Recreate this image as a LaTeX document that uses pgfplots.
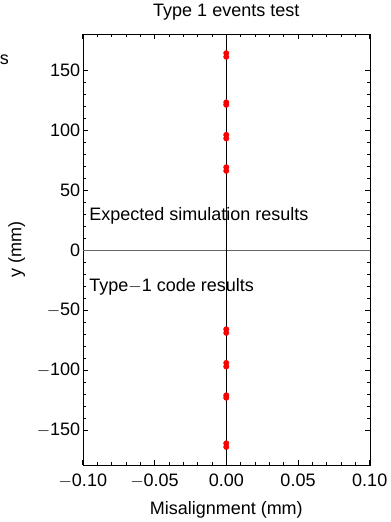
\documentclass[border=0pt]{standalone}
\usepackage{pgfplots}
\pgfplotsset{compat=1.18}
\usepackage{fontspec}
\setmainfont{Liberation Sans}
\begin{document}
\begin{tikzpicture}
\begin{axis}[
  scale only axis,
  width=287pt, height=431pt,
  xmin=-0.1, xmax=0.1, ymin=-179, ymax=180,
  xtick={-0.1,-0.05,0,0.05,0.1},
  xticklabels={$-$0.10,$-$0.05,0.00,0.05,0.10},
  ytick={-150,-100,-50,0,50,100,150},
  yticklabels={$-$150,$-$100,$-$50,0,50,100,150},
  minor x tick num=4, minor y tick num=4,
  tick align=inside,
  major tick length=5pt, minor tick length=3pt,
  tick style={black, line width=0.6pt},
  /pgf/number format/assume math mode=true,
  ticklabel style={font=\fontsize{18}{20}\selectfont},
  xticklabel style={anchor=base, yshift=-22pt},
  yticklabel style={xshift=1pt},
  label style={font=\fontsize{18}{20}\selectfont},
  title style={font=\fontsize{18}{20}\selectfont, at={(axis description cs:0.5,1)}, anchor=base, yshift=11pt},
  title={Type 1 events test},
  xlabel={Misalignment (mm)},
  ylabel={y (mm)},
  xlabel style={at={(axis description cs:0.5,0)}, anchor=base, yshift=-50pt},
  ylabel style={at={([xshift=-66pt]axis description cs:0,0.5)}, anchor=center},
  clip=false,
]
\draw[black!60, line width=0.8pt] (axis cs:-0.1,0) -- (axis cs:0.1,0);
\draw[black, line width=0.6pt] (axis cs:0,-179) -- (axis cs:0,180);
\addplot[only marks, mark=*, mark size=2.8pt, color=red, mark options={draw=red!85!black, line width=0.2pt}] coordinates {
(0,164) (0,161) (0,123) (0,121) (0,96) (0,93) (0,69) (0,66)
(0,-66) (0,-69) (0,-94) (0,-97) (0,-121) (0,-123) (0,-161) (0,-164)
};
\node[anchor=west, font=\fontsize{18}{20}\selectfont, inner sep=0pt] at (axis cs:-0.0955,28.5) {Expected simulation results};
\node[anchor=west, font=\fontsize{18}{20}\selectfont, inner sep=0pt] at (axis cs:-0.0955,-30.5) {Type$-$1 code results};
\node[anchor=west, font=\fontsize{18}{20}\selectfont, inner sep=0pt] at ([xshift=-83pt]axis description cs:0,0.94) {s};
\path (axis description cs:0,1) ++(0pt,34pt) coordinate (topb);
\path (axis description cs:0,0) ++(0pt,-57pt) coordinate (botb);
\path (axis description cs:0,0.5) ++(306pt,0pt) coordinate (rightb);
\end{axis}
\end{tikzpicture}
\end{document}
